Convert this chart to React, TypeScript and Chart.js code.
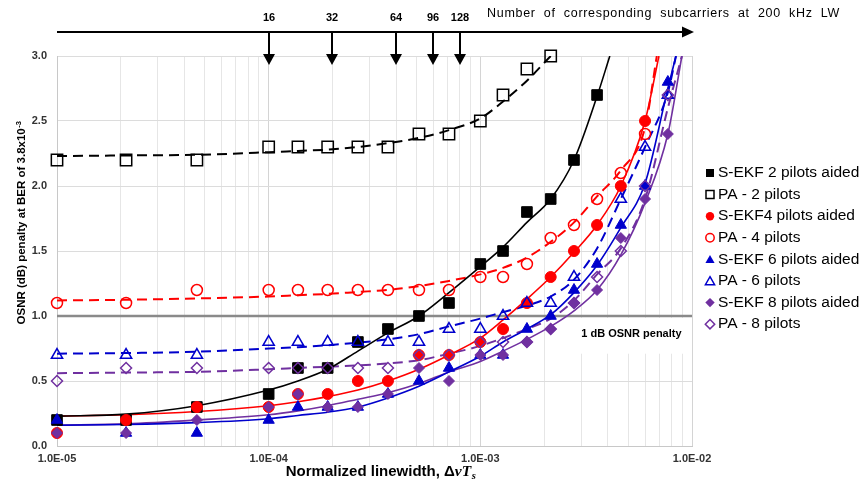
import React, { useEffect, useRef } from 'react';
import { Chart, registerables } from 'chart.js';

Chart.register(...registerables);

// ---- data ----
const linewidth = [1e-5, 2.12e-5, 4.58e-5, 1e-4, 1.375e-4, 1.9e-4, 2.64e-4, 3.66e-4, 5.13e-4, 7.11e-4, 1e-3, 1.28e-3, 1.66e-3, 2.15e-3, 2.77e-3, 3.56e-3, 4.61e-3, 6.0e-3, 7.69e-3];

const sekf2 = [0.2, 0.2, 0.3, 0.4, 0.6, 0.6, 0.8, 0.9, 1.0, 1.1, 1.4, 1.5, 1.8, 1.9, 2.2, 2.7, null, null, null];
const pa2 = [2.2, 2.2, 2.2, 2.3, 2.3, 2.3, 2.3, 2.3, 2.4, 2.4, 2.5, 2.7, 2.9, 3.0, null, null, null, null, null];
const sekf4 = [0.1, 0.2, 0.3, 0.3, 0.4, 0.4, 0.5, 0.5, 0.7, 0.7, 0.8, 0.9, 1.1, 1.3, 1.5, 1.7, 2.0, 2.5, null];
const pa4 = [1.1, 1.1, 1.2, 1.2, 1.2, 1.2, 1.2, 1.2, 1.2, 1.2, 1.3, 1.3, 1.4, 1.6, 1.7, 1.9, 2.1, 2.4, null];
const sekf6 = [0.2, 0.1, 0.1, 0.2, 0.3, 0.3, 0.3, 0.4, 0.5, 0.6, 0.7, 0.7, 0.9, 1.0, 1.2, 1.4, 1.7, 2.0, 2.8];
const pa6 = [0.7, 0.7, 0.7, 0.8, 0.8, 0.8, 0.8, 0.8, 0.8, 0.9, 0.9, 1.0, 1.1, 1.1, 1.3, null, 1.9, 2.3, 2.7];
const sekf8 = [0.1, 0.1, 0.2, 0.3, 0.4, 0.3, 0.3, 0.4, 0.6, 0.5, 0.7, 0.7, 0.8, 0.9, 1.1, 1.2, 1.6, 1.9, 2.4];
const pa8 = [0.5, 0.6, 0.6, 0.6, 0.6, 0.6, 0.6, 0.6, 0.7, 0.7, 0.8, 0.8, 0.8, 0.9, 1.1, 1.3, 1.5, 2.0, 2.7];

// fitted trend curves, read at the same linewidths, plus the point where each leaves the top (3.0 dB)
const fitSekf2 = [0.23, 0.245, 0.31, 0.43, 0.5, 0.59, 0.73, 0.87, 1.0, 1.18, 1.38, 1.53, 1.72, 1.9, 2.2, 2.69, null, null, null];
const fitSekf4 = [0.23, 0.24, 0.265, 0.31, 0.34, 0.38, 0.43, 0.5, 0.59, 0.7, 0.83, 0.97, 1.13, 1.3, 1.49, 1.7, 2.0, 2.5, null];
const fitSekf6 = [0.16, 0.165, 0.18, 0.21, 0.235, 0.26, 0.3, 0.37, 0.46, 0.57, 0.69, 0.8, 0.9, 1.01, 1.18, 1.39, 1.68, 2.02, 2.75];
const fitSekf8 = [0.16, 0.17, 0.2, 0.24, 0.27, 0.31, 0.36, 0.41, 0.48, 0.57, 0.65, 0.73, 0.82, 0.92, 1.04, 1.2, 1.47, 1.87, 2.4];
const fitPa2 = [2.23, 2.235, 2.24, 2.26, 2.27, 2.28, 2.3, 2.33, 2.37, 2.43, 2.52, 2.65, 2.81, 3.0, null, null, null, null, null];
const fitPa4 = [1.12, 1.125, 1.135, 1.15, 1.16, 1.17, 1.185, 1.2, 1.23, 1.27, 1.32, 1.37, 1.45, 1.57, 1.72, 1.92, 2.12, 2.45, null];
const fitPa6 = [0.71, 0.715, 0.725, 0.75, 0.76, 0.775, 0.795, 0.82, 0.86, 0.92, 0.98, 1.03, 1.08, 1.15, 1.28, 1.52, 1.9, 2.3, 2.72];
const fitPa8 = [0.56, 0.565, 0.57, 0.59, 0.6, 0.61, 0.62, 0.635, 0.66, 0.71, 0.77, 0.83, 0.9, 0.98, 1.12, 1.32, 1.52, 1.9, 2.6];
const fitExitX = [4.09e-3, 6.98e-3, 8.4e-3, 8.96e-3, null, 6.82e-3, 8.4e-3, 8.96e-3];

const subcarrierCounts = [16, 32, 64, 96, 128];
const subcarrierLinewidth = [1e-4, 2e-4, 4e-4, 6e-4, 8e-4];

const yTicksMax = 3.0;
const penaltyLimit = 1.0;

// ---- styles ----
const BLACK = '#000000';
const RED = '#ff0000';
const BLUE = '#0000cc';
const PURPLE = '#7030a0';
const FONT = "'Liberation Sans', Arial, sans-serif";
const SERIF = "'Liberation Serif', 'Times New Roman', serif";

type Style = 'rect' | 'circle' | 'triangle' | 'rectRot';

const markerSeries: { label: string; values: (number | null)[]; style: Style; color: string; filled: boolean; radius: number }[] = [
  { label: 'S-EKF 2 pilots aided', values: sekf2, style: 'rect', color: BLACK, filled: true, radius: 7.5 },
  { label: 'PA - 2 pilots', values: pa2, style: 'rect', color: BLACK, filled: false, radius: 8 },
  { label: 'S-EKF4 pilots aided', values: sekf4, style: 'circle', color: RED, filled: true, radius: 5.5 },
  { label: 'PA - 4 pilots', values: pa4, style: 'circle', color: RED, filled: false, radius: 5.5 },
  { label: 'S-EKF 6 pilots aided', values: sekf6, style: 'triangle', color: BLUE, filled: true, radius: 6.5 },
  { label: 'PA - 6 pilots', values: pa6, style: 'triangle', color: BLUE, filled: false, radius: 6.5 },
  { label: 'S-EKF 8 pilots aided', values: sekf8, style: 'rectRot', color: PURPLE, filled: true, radius: 5.5 },
  { label: 'PA - 8 pilots', values: pa8, style: 'rectRot', color: PURPLE, filled: false, radius: 5.5 },
];

const fitSeries = [
  { values: fitSekf2, color: BLACK, dashed: false },
  { values: fitSekf4, color: RED, dashed: false },
  { values: fitSekf6, color: BLUE, dashed: false },
  { values: fitSekf8, color: PURPLE, dashed: false },
  { values: fitPa2, color: BLACK, dashed: true },
  { values: fitPa4, color: RED, dashed: true },
  { values: fitPa6, color: BLUE, dashed: true },
  { values: fitPa8, color: PURPLE, dashed: true },
];

const toPoints = (vals: (number | null)[]) =>
  linewidth.map((x, i) => ({ x, y: vals[i] })).filter((p) => p.y !== null && p.y !== undefined) as { x: number; y: number }[];

const isDecade = (v: number) => {
  const e = Math.round(Math.log10(v));
  return Math.abs(v / Math.pow(10, e) - 1) < 1e-6;
};

const fmtDecade = (v: number) => {
  const e = Math.round(Math.log10(v));
  const s = String(Math.abs(e)).padStart(2, '0');
  return `1.0E${e < 0 ? '-' : '+'}${s}`;
};

function drawMarker(ctx: CanvasRenderingContext2D, style: Style, x: number, y: number, r: number, color: string, filled: boolean) {
  ctx.save();
  ctx.beginPath();
  if (style === 'rect') {
    ctx.rect(x - r, y - r, 2 * r, 2 * r);
  } else if (style === 'circle') {
    ctx.arc(x, y, r, 0, Math.PI * 2);
  } else if (style === 'triangle') {
    const h = r * Math.sin(Math.PI / 3);
    ctx.moveTo(x, y - r);
    ctx.lineTo(x + h, y + r / 2);
    ctx.lineTo(x - h, y + r / 2);
    ctx.closePath();
  } else {
    ctx.moveTo(x, y - r);
    ctx.lineTo(x + r, y);
    ctx.lineTo(x, y + r);
    ctx.lineTo(x - r, y);
    ctx.closePath();
  }
  if (filled) {
    ctx.fillStyle = color;
    ctx.fill();
  } else {
    ctx.strokeStyle = color;
    ctx.lineWidth = 1.5;
    ctx.stroke();
  }
  ctx.restore();
}

const decorations = {
  id: 'decorations',
  beforeDatasetsDraw(chart: any) {
    const { ctx, scales, chartArea } = chart;
    const x = scales.x;
    const y = scales.y;
    ctx.save();
    ctx.fillStyle = '#ffffff';
    const x0 = x.getPixelForValue(2.72e-3);
    const y0 = y.getPixelForValue(penaltyLimit) + 2;
    const y1 = y.getPixelForValue(0.71);
    ctx.fillRect(x0, y0, chartArea.right - 1 - x0, y1 - y0);
    ctx.restore();
  },
  afterDraw(chart: any) {
    const { ctx, scales, chartArea } = chart;
    const x = scales.x;
    const y = scales.y;
    ctx.save();

    // top axis arrow for subcarrier counts
    const yLine = 32;
    ctx.strokeStyle = '#000';
    ctx.fillStyle = '#000';
    ctx.lineWidth = 2;
    ctx.beginPath();
    ctx.moveTo(chartArea.left, yLine);
    ctx.lineTo(chartArea.right - 8, yLine);
    ctx.stroke();
    ctx.beginPath();
    ctx.moveTo(chartArea.right + 2, yLine);
    ctx.lineTo(chartArea.right - 10, yLine - 5.5);
    ctx.lineTo(chartArea.right - 10, yLine + 5.5);
    ctx.closePath();
    ctx.fill();

    ctx.font = `bold 11px ${FONT}`;
    ctx.textAlign = 'center';
    ctx.textBaseline = 'middle';
    subcarrierLinewidth.forEach((v, i) => {
      const px = Math.round(x.getPixelForValue(v));
      ctx.beginPath();
      ctx.moveTo(px, yLine);
      ctx.lineTo(px, 56);
      ctx.stroke();
      ctx.beginPath();
      ctx.moveTo(px, 65);
      ctx.lineTo(px - 6, 54);
      ctx.lineTo(px + 6, 54);
      ctx.closePath();
      ctx.fill();
      ctx.fillText(String(subcarrierCounts[i]), px, 18);
    });

    // header text
    const header = 'Number of corresponding subcarriers at 200 kHz LW';
    ctx.font = `12.5px ${FONT}`;
    ctx.textAlign = 'left';
    (ctx as any).letterSpacing = '0.7px';
    const natural = ctx.measureText(header).width;
    const spaces = header.split(' ').length - 1;
    const ws = Math.max(0, (353 - natural) / spaces);
    (ctx as any).wordSpacing = `${ws.toFixed(2)}px`;
    ctx.fillText(header, 487, 14);
    (ctx as any).letterSpacing = '0px';
    (ctx as any).wordSpacing = '0px';

    // 1 dB label
    ctx.font = `bold 11px ${FONT}`;
    ctx.fillStyle = '#000';
    ctx.textAlign = 'left';
    ctx.fillText('1 dB OSNR penalty', x.getPixelForValue(3e-3), y.getPixelForValue(0.86));

    // legend
    const lx = 710;
    const ly = 173;
    const step = 21.6;
    ctx.font = `15.5px ${FONT}`;
    ctx.textBaseline = 'middle';
    markerSeries.forEach((s, i) => {
      const cy = ly + i * step;
      const r = s.style === 'rect' ? 4 : s.style === 'circle' ? 4.2 : s.style === 'triangle' ? 5.3 : 4.7;
      drawMarker(ctx, s.style, lx, cy + (s.style === 'triangle' ? 1 : 0), r, s.color, s.filled);
      ctx.fillStyle = '#000';
      ctx.fillText(s.label, 718, cy);
    });

    // y title
    ctx.save();
    ctx.translate(21, 223);
    ctx.rotate(-Math.PI / 2);
    const main = 'OSNR (dB) penalty at BER of 3.8x10';
    const sup = '-3';
    ctx.font = `bold 11.5px ${FONT}`;
    const wm = ctx.measureText(main).width;
    ctx.font = `bold 7.5px ${FONT}`;
    const wsup = ctx.measureText(sup).width;
    const sx = -(wm + wsup) / 2;
    ctx.fillStyle = '#000';
    ctx.textAlign = 'left';
    ctx.textBaseline = 'alphabetic';
    ctx.font = `bold 11.5px ${FONT}`;
    ctx.fillText(main, sx, 4);
    ctx.font = `bold 7.5px ${FONT}`;
    ctx.fillText(sup, sx + wm + 0.5, -0.5);
    ctx.restore();

    // x title
    const parts = [
      { t: 'Normalized linewidth, \u0394', f: `bold 15px ${FONT}`, dy: 0 },
      { t: '\u03BDT', f: `italic bold 15.5px ${SERIF}`, dy: 0 },
      { t: 's', f: `italic bold 10.5px ${SERIF}`, dy: 3 },
    ];
    let total = 0;
    const widths = parts.map((p) => {
      ctx.font = p.f;
      const w = ctx.measureText(p.t).width;
      total += w;
      return w;
    });
    let cx = (chartArea.left + chartArea.right) / 2 + 6 - total / 2;
    ctx.textBaseline = 'alphabetic';
    ctx.fillStyle = '#000';
    parts.forEach((p, i) => {
      ctx.font = p.f;
      ctx.fillText(p.t, cx, 476 + p.dy);
      cx += widths[i] + (i === 1 ? 0.5 : 0);
    });

    ctx.restore();
  },
};

export default function App() {
  const canvasRef = useRef<HTMLCanvasElement | null>(null);

  useEffect(() => {
    document.body.style.margin = '0';
    const canvas = canvasRef.current;
    if (!canvas) return;

    Chart.defaults.font.family = FONT;

    const datasets: any[] = [];

    markerSeries.forEach((s, i) => {
      datasets.push({
        label: s.label,
        data: toPoints(s.values),
        showLine: false,
        pointStyle: s.style,
        pointRadius: s.radius,
        pointHoverRadius: s.radius,
        backgroundColor: s.filled ? s.color : 'rgba(0,0,0,0)',
        borderColor: s.color,
        pointBorderWidth: s.filled ? 1 : 1.5,
        clip: false,
        order: 50 - i,
      });
    });

    fitSeries.forEach((f, i) => {
      const pts = toPoints(f.values);
      const exitX = fitExitX[i];
      if (exitX !== null) pts.push({ x: exitX, y: yTicksMax });
      datasets.push({
        label: `fit${i}`,
        data: pts,
        showLine: true,
        borderColor: f.color,
        borderWidth: f.dashed ? 2 : 1.6,
        borderDash: f.dashed ? [10, 6] : [],
        pointRadius: 0,
        cubicInterpolationMode: 'monotone',
        fill: false,
        order: 100,
      });
    });

    datasets.push({
      label: 'limit',
      data: [
        { x: 1e-5, y: penaltyLimit },
        { x: 1e-2, y: penaltyLimit },
      ],
      showLine: true,
      borderColor: '#8a8a8a',
      borderWidth: 2.5,
      pointRadius: 0,
      order: 200,
    });

    const xTickValues: number[] = [];
    for (let e = -5; e <= -3; e++) {
      for (let m = 1; m <= 9; m++) xTickValues.push(m * Math.pow(10, e));
    }
    xTickValues.push(1e-2);

    const chart = new Chart(canvas, {
      type: 'scatter',
      data: { datasets },
      options: {
        responsive: false,
        animation: false,
        events: [],
        layout: { padding: { top: 56, right: 172, bottom: 0, left: 0 } },
        plugins: { legend: { display: false }, tooltip: { enabled: false } },
        scales: {
          x: {
            type: 'logarithmic',
            min: 1e-5,
            max: 1e-2,
            afterBuildTicks: (scale: any) => {
              scale.ticks = xTickValues.map((v) => ({ value: v, major: isDecade(v) }));
            },
            afterFit: (scale: any) => {
              scale.height = 43;
            },
            ticks: {
              autoSkip: false,
              maxRotation: 0,
              padding: 6,
              color: '#333333',
              font: { family: FONT, size: 11, weight: 'bold' },
              callback: (v: any) => (isDecade(Number(v)) ? fmtDecade(Number(v)) : ''),
            },
            grid: {
              drawTicks: false,
              color: (c: any) => (c.tick && isDecade(c.tick.value) ? '#d4d4d4' : '#e6e6e6'),
              lineWidth: 1,
            },
            border: { display: true, color: '#c8c8c8' },
          },
          y: {
            min: 0,
            max: yTicksMax,
            afterFit: (scale: any) => {
              scale.width = 57;
            },
            ticks: {
              stepSize: 0.5,
              padding: 10,
              color: '#333333',
              font: { family: FONT, size: 11, weight: 'bold' },
              callback: (v: any) => Number(v).toFixed(1),
            },
            grid: { drawTicks: false, color: '#dcdcdc', lineWidth: 1 },
            border: { display: true, color: '#c8c8c8' },
          },
        },
      } as any,
      plugins: [decorations],
    });

    return () => chart.destroy();
  }, []);

  return (
    <div style={{ width: 864, height: 489 }}>
      <canvas ref={canvasRef} width={864} height={489} />
    </div>
  );
}
